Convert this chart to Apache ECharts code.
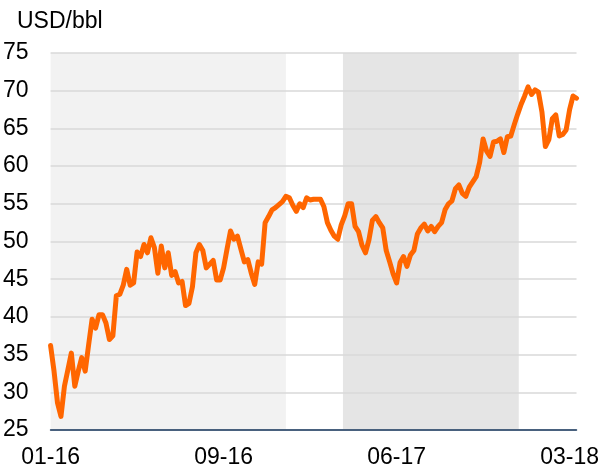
<!DOCTYPE html>
<html><head><meta charset="utf-8">
<script src="https://cdn.jsdelivr.net/npm/echarts@6/dist/echarts.min.js"></script>
<style>html,body{margin:0;padding:0;background:#fff}#c{width:602px;height:471px}</style>
</head><body><div id="c"></div>
<script>
const tickLabels = ['01-16', '09-16', '06-17', '03-18'];
const labelStep = 50;
const brent = [
  36.2, 32.8, 28.6, 26.8, 30.8, 33.0, 35.2, 30.8, 32.8, 34.6,
  32.8, 36.3, 39.7, 38.5, 40.3, 40.3, 39.2, 37.0, 37.5, 42.8,
  43.0, 44.2, 46.3, 44.2, 44.5, 48.6, 48.0, 49.6, 48.5, 50.5,
  49.2, 45.8, 49.4, 46.5, 48.5, 45.5, 46.0, 44.5, 44.7, 41.5,
  41.8, 44.0, 48.5, 49.6, 48.8, 46.5, 47.0, 47.5, 44.9, 44.9,
  46.5, 49.0, 51.4, 50.3, 50.7, 49.0, 47.3, 47.6, 45.8, 44.3,
  47.3, 47.0, 52.5, 53.3, 54.2, 54.5, 54.9, 55.3, 56.0, 55.8,
  54.8, 54.0, 55.0, 54.5, 55.8, 55.5, 55.6, 55.6, 55.6, 54.6,
  52.5, 51.5, 50.7, 50.3, 52.2, 53.4, 55.0, 55.0, 52.0, 51.3,
  49.5, 48.5, 50.2, 52.8, 53.3, 52.5, 51.8, 48.8, 47.3, 45.7,
  44.5, 47.2, 48.0, 46.7, 48.2, 48.8, 51.0, 51.8, 52.3, 51.4,
  52.0, 51.3, 52.0, 52.5, 54.2, 55.0, 55.4, 57.0, 57.5, 56.4,
  56.0, 57.2, 57.9, 58.6, 60.5, 63.6, 62.0, 61.3, 63.2, 63.3,
  63.6, 61.8, 63.9, 64.0, 65.5, 66.9, 68.2, 69.3, 70.5, 69.5,
  70.1, 69.8, 67.2, 62.6, 63.5, 66.3, 66.8, 64.0, 64.2, 64.8,
  67.5, 69.3, 69.0
];
const lightPeriod = [0, 68];
const darkPeriod = [84.5, 135.3];

const chart = echarts.init(document.getElementById('c'), null, {renderer: 'canvas'});
const font = '"Liberation Sans", Arial, sans-serif';
chart.setOption({
  animation: false,
  title: {text: 'USD/bbl', left: 12, top: 5,
    textStyle: {fontFamily: font, fontSize: 23, fontWeight: 'normal', color: '#000'}},
  grid: {left: 49, right: 25, top: 53, bottom: 41},
  xAxis: {
    type: 'value', min: 0, max: brent.length - 1, interval: labelStep,
    axisLine: {lineStyle: {color: '#17375e', width: 1.5}},
    axisTick: {show: false}, splitLine: {show: false},
    axisLabel: {
      formatter: v => (v % labelStep === 0 ? (tickLabels[v / labelStep] || '') : ''),
      fontSize: 23, color: '#000', margin: 16, fontFamily: font
    }
  },
  yAxis: {
    type: 'value', min: 25, max: 75, interval: 5,
    axisLine: {show: false}, axisTick: {show: false},
    splitLine: {lineStyle: {color: '#d9d9d9', width: 1.5}},
    axisLabel: {fontSize: 23, color: '#000', margin: 22, fontFamily: font}
  },
  series: [{
    type: 'line', data: brent.map((v, i) => [i, v]), showSymbol: false, symbol: 'none',
    lineStyle: {color: '#ff6600', width: 5, join: 'round', cap: 'round'}, z: 3,
    markArea: {
      silent: true, z: -1,
      data: [
        [{xAxis: lightPeriod[0], itemStyle: {color: '#f2f2f2'}}, {xAxis: lightPeriod[1]}],
        [{xAxis: darkPeriod[0], itemStyle: {color: '#e5e5e5'}}, {xAxis: darkPeriod[1]}]
      ]
    }
  }]
});
</script></body></html>
